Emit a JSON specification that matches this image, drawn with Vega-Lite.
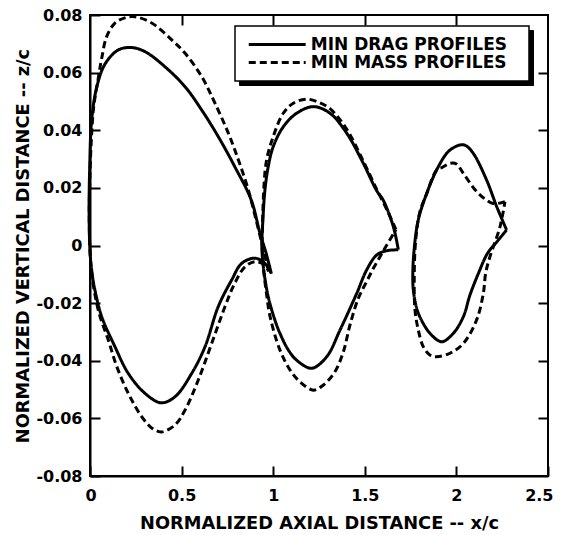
{
  "$schema": "https://vega.github.io/schema/vega-lite/v6.json",
  "width": 458,
  "height": 461,
  "autosize": {"type": "none"},
  "padding": {"left": 90, "top": 15, "right": 13, "bottom": 59},
  "background": "white",
  "config": {
    "view": {"stroke": "black", "strokeWidth": 2},
    "font": "DejaVu Sans",
    "axis": {
      "labelFont": "DejaVu Sans", "labelFontWeight": "bold", "labelFontSize": 16, "labelColor": "black", "labelFlush": false,
      "titleFont": "DejaVu Sans", "titleFontWeight": "bold", "titleFontSize": 17.8, "titleColor": "black",
      "domainColor": "black", "domainWidth": 2, "tickColor": "black", "tickWidth": 2, "tickSize": -10, "grid": false
    }
  },
  "datasets": {
    "d": [
      {"p":"D","b":1,"i":0,"x":0.99,"y":-0.0098},{"p":"D","b":1,"i":1,"x":0.961,"y":-0.0026},{"p":"D","b":1,"i":2,"x":0.928,"y":0.0042},{"p":"D","b":1,"i":3,"x":0.88,"y":0.0158},{"p":"D","b":1,"i":4,"x":0.79,"y":0.0274},{"p":"D","b":1,"i":5,"x":0.70,"y":0.0378},{"p":"D","b":1,"i":6,"x":0.61,"y":0.047},{"p":"D","b":1,"i":7,"x":0.519,"y":0.0551},{"p":"D","b":1,"i":8,"x":0.41,"y":0.062},{"p":"D","b":1,"i":9,"x":0.30,"y":0.0673},{"p":"D","b":1,"i":10,"x":0.228,"y":0.0687},{"p":"D","b":1,"i":11,"x":0.155,"y":0.0679},{"p":"D","b":1,"i":12,"x":0.082,"y":0.063},{"p":"D","b":1,"i":13,"x":0.037,"y":0.055},{"p":"D","b":1,"i":14,"x":0.009,"y":0.0436},{"p":"D","b":1,"i":15,"x":-0.002,"y":0.026},{"p":"D","b":1,"i":16,"x":-0.005,"y":0.012},{"p":"D","b":1,"i":17,"x":0.0,"y":-0.002},{"p":"D","b":1,"i":18,"x":0.01,"y":-0.009},{"p":"D","b":1,"i":19,"x":0.027,"y":-0.0155},{"p":"D","b":1,"i":20,"x":0.064,"y":-0.0247},{"p":"D","b":1,"i":21,"x":0.136,"y":-0.0351},{"p":"D","b":1,"i":22,"x":0.209,"y":-0.0444},{"p":"D","b":1,"i":23,"x":0.30,"y":-0.0513},{"p":"D","b":1,"i":24,"x":0.388,"y":-0.0546},{"p":"D","b":1,"i":25,"x":0.464,"y":-0.0525},{"p":"D","b":1,"i":26,"x":0.555,"y":-0.0444},{"p":"D","b":1,"i":27,"x":0.628,"y":-0.0351},{"p":"D","b":1,"i":28,"x":0.70,"y":-0.0212},{"p":"D","b":1,"i":29,"x":0.773,"y":-0.012},{"p":"D","b":1,"i":30,"x":0.828,"y":-0.0062},{"p":"D","b":1,"i":31,"x":0.90,"y":-0.0044},{"p":"D","b":1,"i":32,"x":0.955,"y":-0.0062},{"p":"D","b":1,"i":33,"x":0.99,"y":-0.0098},

      {"p":"M","b":4,"i":0,"x":0.975,"y":-0.009},{"p":"M","b":4,"i":1,"x":0.945,"y":-0.001},{"p":"M","b":4,"i":2,"x":0.91,"y":0.008},{"p":"M","b":4,"i":3,"x":0.864,"y":0.0193},{"p":"M","b":4,"i":4,"x":0.81,"y":0.0297},{"p":"M","b":4,"i":5,"x":0.755,"y":0.039},{"p":"M","b":4,"i":6,"x":0.682,"y":0.0494},{"p":"M","b":4,"i":7,"x":0.61,"y":0.0586},{"p":"M","b":4,"i":8,"x":0.519,"y":0.0667},{"p":"M","b":4,"i":9,"x":0.446,"y":0.0714},{"p":"M","b":4,"i":10,"x":0.337,"y":0.0772},{"p":"M","b":4,"i":11,"x":0.246,"y":0.0794},{"p":"M","b":4,"i":12,"x":0.19,"y":0.079},{"p":"M","b":4,"i":13,"x":0.136,"y":0.0772},{"p":"M","b":4,"i":14,"x":0.091,"y":0.0725},{"p":"M","b":4,"i":15,"x":0.064,"y":0.065},{"p":"M","b":4,"i":16,"x":0.045,"y":0.058},{"p":"M","b":4,"i":17,"x":0.02,"y":0.048},{"p":"M","b":4,"i":18,"x":0.006,"y":0.035},{"p":"M","b":4,"i":19,"x":-0.002,"y":0.02},{"p":"M","b":4,"i":20,"x":-0.004,"y":0.01},{"p":"M","b":4,"i":21,"x":0.0,"y":-0.002},{"p":"M","b":4,"i":22,"x":0.009,"y":-0.0096},{"p":"M","b":4,"i":23,"x":0.03,"y":-0.018},{"p":"M","b":4,"i":24,"x":0.055,"y":-0.0247},{"p":"M","b":4,"i":25,"x":0.10,"y":-0.0328},{"p":"M","b":4,"i":26,"x":0.146,"y":-0.042},{"p":"M","b":4,"i":27,"x":0.209,"y":-0.0513},{"p":"M","b":4,"i":28,"x":0.282,"y":-0.0594},{"p":"M","b":4,"i":29,"x":0.34,"y":-0.0635},{"p":"M","b":4,"i":30,"x":0.391,"y":-0.0647},{"p":"M","b":4,"i":31,"x":0.464,"y":-0.0623},{"p":"M","b":4,"i":32,"x":0.519,"y":-0.0571},{"p":"M","b":4,"i":33,"x":0.591,"y":-0.0467},{"p":"M","b":4,"i":34,"x":0.664,"y":-0.034},{"p":"M","b":4,"i":35,"x":0.737,"y":-0.0212},{"p":"M","b":4,"i":36,"x":0.79,"y":-0.0131},{"p":"M","b":4,"i":37,"x":0.846,"y":-0.0074},{"p":"M","b":4,"i":38,"x":0.90,"y":-0.0056},{"p":"M","b":4,"i":39,"x":0.955,"y":-0.0068},{"p":"M","b":4,"i":40,"x":0.975,"y":-0.009},

      {"p":"D","b":2,"i":0,"x":1.683,"y":-0.0015},{"p":"D","b":2,"i":1,"x":1.656,"y":0.0065},{"p":"D","b":2,"i":2,"x":1.60,"y":0.0158},{"p":"D","b":2,"i":3,"x":1.565,"y":0.019},{"p":"D","b":2,"i":4,"x":1.492,"y":0.0285},{"p":"D","b":2,"i":5,"x":1.401,"y":0.039},{"p":"D","b":2,"i":6,"x":1.31,"y":0.0459},{"p":"D","b":2,"i":7,"x":1.219,"y":0.0482},{"p":"D","b":2,"i":8,"x":1.128,"y":0.0459},{"p":"D","b":2,"i":9,"x":1.055,"y":0.0412},{"p":"D","b":2,"i":10,"x":1.0,"y":0.0343},{"p":"D","b":2,"i":11,"x":0.973,"y":0.0274},{"p":"D","b":2,"i":12,"x":0.955,"y":0.0193},{"p":"D","b":2,"i":13,"x":0.943,"y":0.008},{"p":"D","b":2,"i":14,"x":0.938,"y":0.0},{"p":"D","b":2,"i":15,"x":0.946,"y":-0.0073},{"p":"D","b":2,"i":16,"x":0.973,"y":-0.0178},{"p":"D","b":2,"i":17,"x":1.01,"y":-0.026},{"p":"D","b":2,"i":18,"x":1.037,"y":-0.0305},{"p":"D","b":2,"i":19,"x":1.08,"y":-0.036},{"p":"D","b":2,"i":20,"x":1.128,"y":-0.0398},{"p":"D","b":2,"i":21,"x":1.21,"y":-0.0426},{"p":"D","b":2,"i":22,"x":1.292,"y":-0.0386},{"p":"D","b":2,"i":23,"x":1.365,"y":-0.0293},{"p":"D","b":2,"i":24,"x":1.456,"y":-0.0166},{"p":"D","b":2,"i":25,"x":1.51,"y":-0.0085},{"p":"D","b":2,"i":26,"x":1.565,"y":-0.0033},{"p":"D","b":2,"i":27,"x":1.62,"y":-0.0018},{"p":"D","b":2,"i":28,"x":1.683,"y":-0.0015},

      {"p":"M","b":5,"i":0,"x":1.67,"y":0.0055},{"p":"M","b":5,"i":1,"x":1.62,"y":0.0125},{"p":"M","b":5,"i":2,"x":1.565,"y":0.0195},{"p":"M","b":5,"i":3,"x":1.49,"y":0.0295},{"p":"M","b":5,"i":4,"x":1.40,"y":0.0405},{"p":"M","b":5,"i":5,"x":1.31,"y":0.0475},{"p":"M","b":5,"i":6,"x":1.255,"y":0.0495},{"p":"M","b":5,"i":7,"x":1.183,"y":0.0508},{"p":"M","b":5,"i":8,"x":1.11,"y":0.0494},{"p":"M","b":5,"i":9,"x":1.055,"y":0.0459},{"p":"M","b":5,"i":10,"x":1.0,"y":0.0378},{"p":"M","b":5,"i":11,"x":0.964,"y":0.0297},{"p":"M","b":5,"i":12,"x":0.95,"y":0.021},{"p":"M","b":5,"i":13,"x":0.942,"y":0.008},{"p":"M","b":5,"i":14,"x":0.94,"y":0.0},{"p":"M","b":5,"i":15,"x":0.947,"y":-0.008},{"p":"M","b":5,"i":16,"x":0.962,"y":-0.016},{"p":"M","b":5,"i":17,"x":0.983,"y":-0.0247},{"p":"M","b":5,"i":18,"x":1.037,"y":-0.0363},{"p":"M","b":5,"i":19,"x":1.092,"y":-0.0432},{"p":"M","b":5,"i":20,"x":1.146,"y":-0.0473},{"p":"M","b":5,"i":21,"x":1.219,"y":-0.0502},{"p":"M","b":5,"i":22,"x":1.274,"y":-0.0484},{"p":"M","b":5,"i":23,"x":1.337,"y":-0.0438},{"p":"M","b":5,"i":24,"x":1.383,"y":-0.0369},{"p":"M","b":5,"i":25,"x":1.419,"y":-0.0276},{"p":"M","b":5,"i":26,"x":1.465,"y":-0.0183},{"p":"M","b":5,"i":27,"x":1.51,"y":-0.0125},{"p":"M","b":5,"i":28,"x":1.546,"y":-0.008},{"p":"M","b":5,"i":29,"x":1.583,"y":-0.0039},{"p":"M","b":5,"i":30,"x":1.62,"y":0.0002},{"p":"M","b":5,"i":31,"x":1.67,"y":0.0055},

      {"p":"D","b":3,"i":0,"x":2.274,"y":0.0054},{"p":"D","b":3,"i":1,"x":2.22,"y":0.0135},{"p":"D","b":3,"i":2,"x":2.165,"y":0.0227},{"p":"D","b":3,"i":3,"x":2.092,"y":0.032},{"p":"D","b":3,"i":4,"x":2.05,"y":0.0347},{"p":"D","b":3,"i":5,"x":2.02,"y":0.0349},{"p":"D","b":3,"i":6,"x":1.98,"y":0.0338},{"p":"D","b":3,"i":7,"x":1.947,"y":0.032},{"p":"D","b":3,"i":8,"x":1.892,"y":0.0262},{"p":"D","b":3,"i":9,"x":1.838,"y":0.0181},{"p":"D","b":3,"i":10,"x":1.792,"y":0.0089},{"p":"D","b":3,"i":11,"x":1.769,"y":-0.0016},{"p":"D","b":3,"i":12,"x":1.762,"y":-0.01},{"p":"D","b":3,"i":13,"x":1.765,"y":-0.0155},{"p":"D","b":3,"i":14,"x":1.78,"y":-0.021},{"p":"D","b":3,"i":15,"x":1.80,"y":-0.0247},{"p":"D","b":3,"i":16,"x":1.856,"y":-0.0305},{"p":"D","b":3,"i":17,"x":1.92,"y":-0.0334},{"p":"D","b":3,"i":18,"x":1.983,"y":-0.0305},{"p":"D","b":3,"i":19,"x":2.038,"y":-0.0247},{"p":"D","b":3,"i":20,"x":2.074,"y":-0.0172},{"p":"D","b":3,"i":21,"x":2.12,"y":-0.0097},{"p":"D","b":3,"i":22,"x":2.17,"y":-0.0027},{"p":"D","b":3,"i":23,"x":2.22,"y":0.0012},{"p":"D","b":3,"i":24,"x":2.274,"y":0.0054},

      {"p":"M","b":6,"i":0,"x":2.265,"y":0.0152},{"p":"M","b":6,"i":1,"x":2.201,"y":0.0146},{"p":"M","b":6,"i":2,"x":2.12,"y":0.0181},{"p":"M","b":6,"i":3,"x":2.038,"y":0.025},{"p":"M","b":6,"i":4,"x":2.0,"y":0.0283},{"p":"M","b":6,"i":5,"x":1.965,"y":0.0285},{"p":"M","b":6,"i":6,"x":1.92,"y":0.027},{"p":"M","b":6,"i":7,"x":1.892,"y":0.0262},{"p":"M","b":6,"i":8,"x":1.838,"y":0.018},{"p":"M","b":6,"i":9,"x":1.80,"y":0.0115},{"p":"M","b":6,"i":10,"x":1.778,"y":0.002},{"p":"M","b":6,"i":11,"x":1.77,"y":-0.01},{"p":"M","b":6,"i":12,"x":1.774,"y":-0.0224},{"p":"M","b":6,"i":13,"x":1.792,"y":-0.0293},{"p":"M","b":6,"i":14,"x":1.819,"y":-0.0351},{"p":"M","b":6,"i":15,"x":1.855,"y":-0.038},{"p":"M","b":6,"i":16,"x":1.892,"y":-0.0386},{"p":"M","b":6,"i":17,"x":1.965,"y":-0.0374},{"p":"M","b":6,"i":18,"x":2.038,"y":-0.034},{"p":"M","b":6,"i":19,"x":2.11,"y":-0.0259},{"p":"M","b":6,"i":20,"x":2.147,"y":-0.0166},{"p":"M","b":6,"i":21,"x":2.16,"y":-0.0095},{"p":"M","b":6,"i":22,"x":2.183,"y":-0.0039},{"p":"M","b":6,"i":23,"x":2.238,"y":0.0065},{"p":"M","b":6,"i":24,"x":2.265,"y":0.0152}
    ]
  },
  "data": {"name": "d"},
  "layer": [
    {
      "mark": {"type": "point", "opacity": 0},
      "encoding": {
        "x": {"field": "x", "type": "quantitative", "scale": {"domain": [0, 2.5], "nice": false, "zero": false},
              "axis": {"orient": "top", "values": [0.5, 1, 1.5, 2], "labels": false, "title": null, "domain": false}},
        "y": {"field": "y", "type": "quantitative", "scale": {"domain": [-0.08, 0.08], "nice": false, "zero": false},
              "axis": {"orient": "right", "values": [-0.06, -0.04, -0.02, 0, 0.02, 0.04, 0.06], "labels": false, "title": null, "domain": false}},
        "strokeDash": {"field": "p", "type": "nominal", "scale": {"domain": ["M", "D"], "range": [[7, 4], [1, 0]]},
          "legend": {"orient": "none", "legendX": 149, "legendY": 15, "title": null, "direction": "vertical",
            "fillColor": "black", "strokeColor": "black", "padding": 10, "zindex": 1,
            "symbolType": "M0,0H12", "symbolSize": 90, "symbolOffset": -4.75, "symbolStrokeWidth": 3, "symbolStrokeColor": "black", "symbolOpacity": 0,
            "labelFont": "DejaVu Sans", "labelFontWeight": "bold", "labelFontSize": 17, "labelColor": "black",
            "labelOffset": 53.5, "rowPadding": 0, "labelLimit": 400,
            "labelExpr": "datum.value == 'D' ? 'MIN  DRAG  PROFILES' : 'MIN  MASS  PROFILES'"}}
      }
    },
    {
      "mark": {"type": "line", "strokeWidth": 3, "color": "black", "strokeJoin": "round", "interpolate": "catmull-rom"},
      "encoding": {
        "x": {"field": "x", "type": "quantitative",
              "axis": {"orient": "bottom", "values": [0, 0.5, 1, 1.5, 2, 2.5], "format": "~g", "labelPadding": 21, "titlePadding": 11,
                       "labelFlush": true, "labelFlushOffset": 5,
                       "title": "NORMALIZED  AXIAL  DISTANCE  --  x/c"}},
        "y": {"field": "y", "type": "quantitative",
              "axis": {"orient": "left", "values": [-0.08, -0.06, -0.04, -0.02, 0, 0.02, 0.04, 0.06, 0.08], "labelPadding": 18, "titlePadding": 3,
                       "labelExpr": "datum.value == 0 ? '0' : (datum.value < 0 ? '-' : '') + format(abs(datum.value), '.2f')",
                       "title": "NORMALIZED  VERTICAL  DISTANCE  --  z/c"}},
        "detail": {"field": "b", "type": "nominal"},
        "order": {"field": "i", "type": "quantitative"},
        "strokeDash": {"field": "p", "type": "nominal", "scale": {"domain": ["D", "M"], "range": [[1, 0], [7, 4]]},
          "legend": {"orient": "none", "legendX": 145, "legendY": 11, "title": null, "direction": "vertical",
            "fillColor": "white", "strokeColor": "black", "padding": 10, "zindex": 2,
            "symbolType": "M0,0H12", "symbolSize": 90, "symbolOffset": -4.75, "symbolStrokeWidth": 3, "symbolStrokeColor": "black", "symbolFillColor": "transparent",
            "labelFont": "DejaVu Sans", "labelFontWeight": "bold", "labelFontSize": 17, "labelColor": "black",
            "labelOffset": 53.5, "rowPadding": 0, "labelLimit": 400,
            "labelExpr": "datum.value == 'D' ? 'MIN  DRAG  PROFILES' : 'MIN  MASS  PROFILES'",
            "encode": {"legend": {"update": {"strokeWidth": {"value": 1.5}}}}}}
      }
    }
  ],
  "resolve": {"axis": {"x": "independent", "y": "independent"}, "scale": {"strokeDash": "independent"}, "legend": {"strokeDash": "independent"}}
}
